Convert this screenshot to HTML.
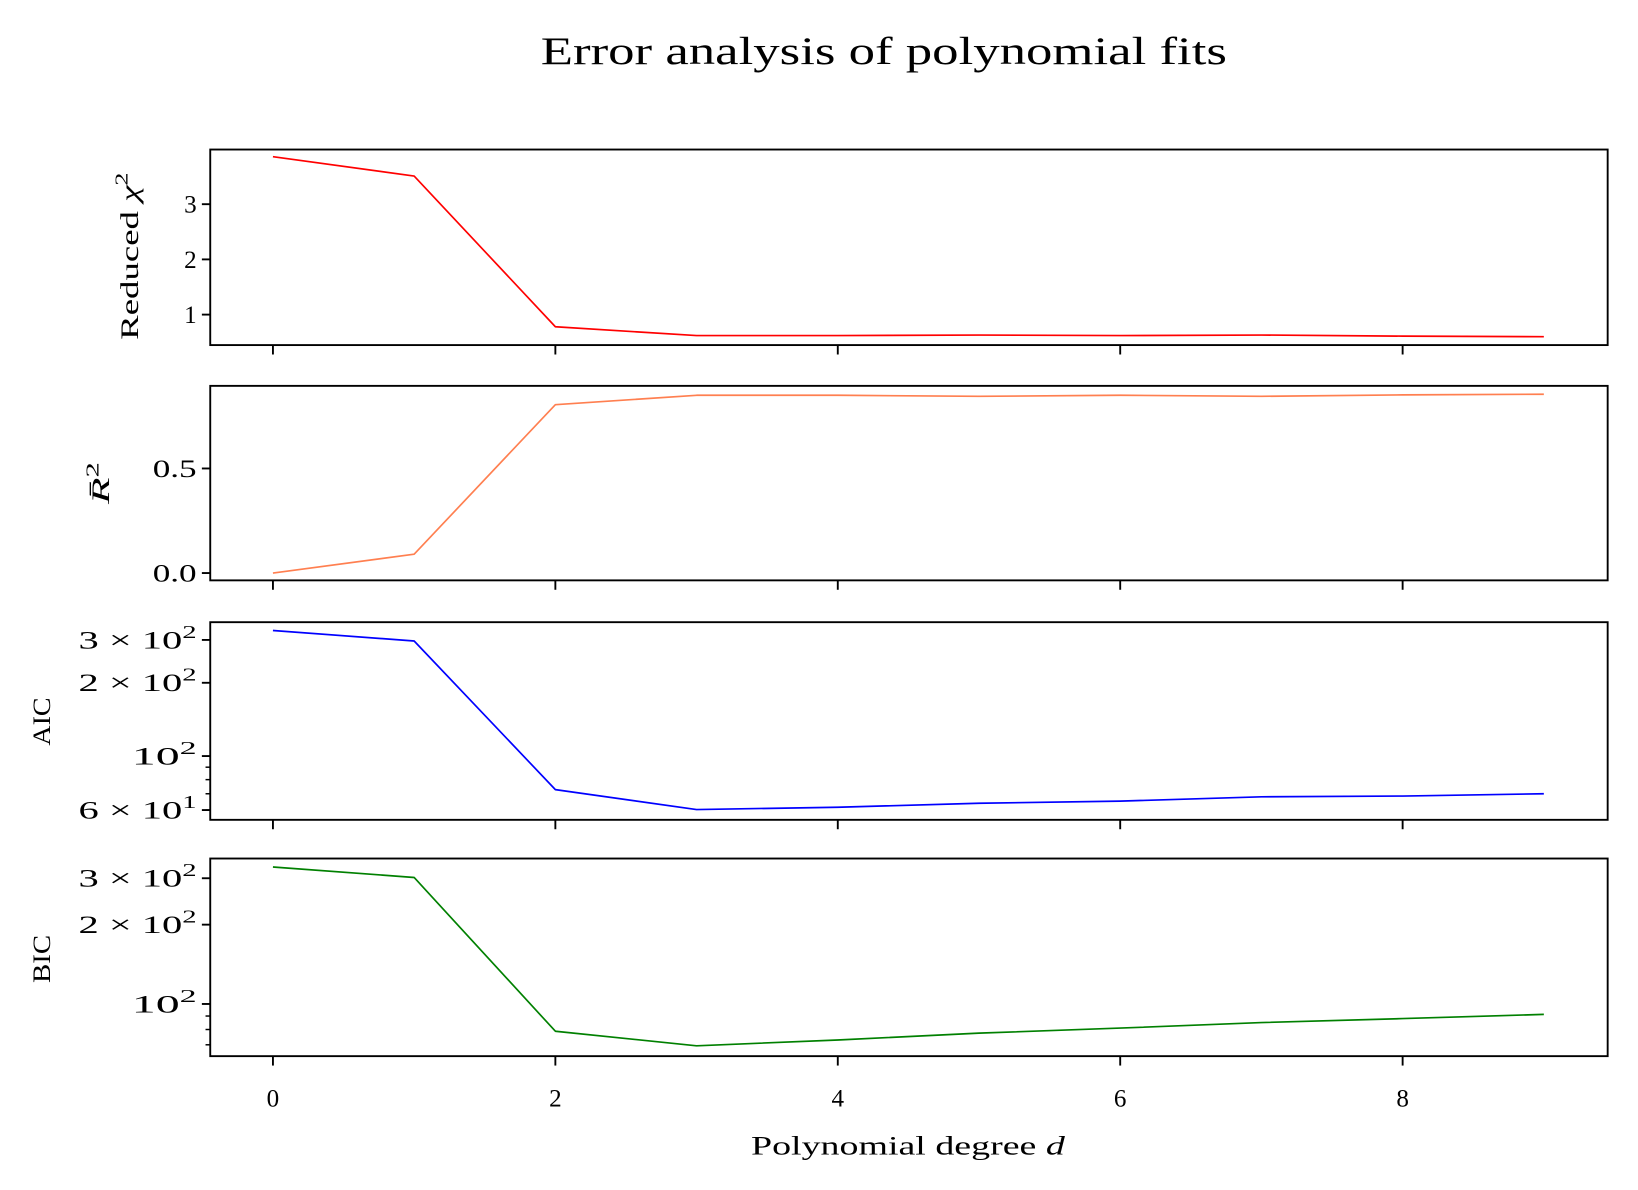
<!DOCTYPE html>
<html><head><meta charset="utf-8"><style>
html,body{margin:0;padding:0;background:#fff;}
svg{display:block;}
text{font-family:"Liberation Serif","DejaVu Serif",serif;fill:#000;}
</style></head><body>
<svg id="fig" width="1638" height="1190" viewBox="0 0 1566 1138" preserveAspectRatio="none" xmlns="http://www.w3.org/2000/svg">
<rect width="1566" height="1138" fill="#fff"/>
<text x="517" y="61" font-size="37" textLength="656" lengthAdjust="spacingAndGlyphs">Error analysis of polynomial fits</text>
<text x="718" y="1104" font-size="25" textLength="300" lengthAdjust="spacingAndGlyphs">Polynomial degree <tspan font-style="italic">d</tspan></text>
</svg>
<script>
const degrees = [0,1,2,3,4,5,6,7,8,9];
const chi2Values = [3.86,3.51,0.78,0.62,0.62,0.63,0.62,0.63,0.61,0.60];
const r2Values = [0.0,0.09,0.805,0.85,0.85,0.845,0.85,0.845,0.852,0.855];
const aicValues = [328,297,72.8,60.3,61.6,64,65.3,68,68.5,70];
const bicValues = [331,302,78.8,69.4,73,77.5,81,85,88,91.3];
const xTicks = [0,2,4,6,8];
const chi2Ticks = [1,2,3];
const r2Ticks = [0.0,0.5];
const r2TickLabels = ["0.0","0.5"];
const aicTicks = [60,100,200,300];
const aicTickLabels = [["6","1"],["","2"],["2","2"],["3","2"]];
const bicTicks = [100,200,300];
const bicTickLabels = [["","2"],["2","2"],["3","2"]];

const NS = "http://www.w3.org/2000/svg";
const svg = document.getElementById('fig');
const X0 = 201, X1 = 1537, XMIN = -0.444, XMAX = 9.452;
function xs(v){ return X0 + (v - XMIN) / (XMAX - XMIN) * (X1 - X0); }
function mk(tag, attrs, parent){
  const e = document.createElementNS(NS, tag);
  for (const k in attrs) e.setAttribute(k, attrs[k]);
  (parent || svg).appendChild(e);
  return e;
}
function panel(cfg){
  const g = mk('g', {});
  
  
  const top = cfg.top, bot = cfg.bot;
  const tr = v => cfg.log ? Math.log10(v) : v;
  const ys = v => bot - (tr(v) - cfg.ymin) / (cfg.ymax - cfg.ymin) * (bot - top);
  const pts = degrees.map((d,i) => xs(d).toFixed(2) + ',' + ys(cfg.values[i]).toFixed(2)).join(' ');
  const line = mk('polyline', {points: pts, fill: 'none', stroke: cfg.color, 'stroke-width': 1.6, 'stroke-linejoin': 'round'}, g);
  
  
  if (cfg.log) {
    [60,70,80,90].forEach(m => {
      const y = ys(m);
      if (y > top && y < bot) mk('line', {x1: X0-4.5, x2: X0, y1: y, y2: y, stroke: '#000', 'stroke-width': 1.4}, g);
    });
  }
  cfg.ticks.forEach((t,i) => {
    const y = ys(t);
    mk('line', {x1: X0-8, x2: X0, y1: y, y2: y, stroke: '#000', 'stroke-width': 1.8}, g);
    const L = cfg.labels[i];
    const lab = mk('text', {x: X0-13, y: y+8, 'font-size': 24, 'text-anchor': 'end'}, g);
    
    
    if (Array.isArray(L)) {
      const w = L[0] ? 113 : 62;
      lab.setAttribute('textLength', w);
      lab.setAttribute('lengthAdjust', 'spacingAndGlyphs');
      lab.appendChild(document.createTextNode(L[0] ? L[0] + ' \u00d7 10' : '10'));
      const s = mk('tspan', {dy: -10, 'font-size': 17}, lab);
      s.textContent = L[1];
    } else {
      lab.textContent = L;
      if (L.length > 1) { lab.setAttribute('textLength', 42); lab.setAttribute('lengthAdjust', 'spacingAndGlyphs'); }
    }
  });
  xTicks.forEach(t => {
    mk('line', {x1: xs(t), x2: xs(t), y1: bot, y2: bot+9, stroke: '#000', 'stroke-width': 1.8}, g);
  });
  const fr = mk('rect', {x: X0, y: top, width: X1-X0, height: bot-top, fill: 'none', stroke: '#000', 'stroke-width': 1.8}, g);
  
  
  const cy = cfg.labelY;
  const yl = mk('text', {x: cfg.labelX, y: cy, 'font-size': 24, 'text-anchor': 'middle', transform: 'rotate(-90 ' + cfg.labelX + ' ' + cy + ')'}, g);
  
  
  cfg.ylabel(yl);
  if (cfg.labelLen) { yl.setAttribute('textLength', cfg.labelLen); yl.setAttribute('lengthAdjust', 'spacingAndGlyphs'); }
  return ys;
}
panel({name:'reduced-chi2', top:143, bot:330, ymin:0.448, ymax:3.99, values:chi2Values, color:'#ff0000',
  ticks:chi2Ticks, labels:chi2Ticks.map(String), labelX:132, labelY:245, labelLen:160,
  ylabel: el => { el.appendChild(document.createTextNode('Reduced ')); const c = mk('tspan',{'font-style':'italic'},el); c.textContent='\u03c7'; const s = mk('tspan',{dy:-10,'font-size':17},el); s.textContent='2'; }});
panel({name:'adjusted-r2', top:369, bot:555, ymin:-0.035, ymax:0.895, values:r2Values, color:'#ff7f50',
  ticks:r2Ticks, labels:r2TickLabels, labelX:104, labelY:462, labelLen:40,
  ylabel: el => { const c = mk('tspan',{'font-style':'italic'},el); c.textContent='R\u0304'; const s = mk('tspan',{dy:-10,'font-size':17},el); s.textContent='2'; }});
panel({name:'aic', top:595, bot:784, log:true, ymin:2-0.262, ymax:2.55, values:aicValues, color:'#0000ff',
  ticks:aicTicks, labels:aicTickLabels, labelX:48, labelY:690, labelLen:46,
  ylabel: el => { el.textContent = 'AIC'; }});
panel({name:'bic', top:821, bot:1010, log:true, ymin:2-0.198, ymax:2.552, values:bicValues, color:'#008000',
  ticks:bicTicks, labels:bicTickLabels, labelX:48, labelY:917, labelLen:46,
  ylabel: el => { el.textContent = 'BIC'; }});
xTicks.forEach(t => {
  const l = mk('text', {x: xs(t), y: 1058, 'font-size': 24, 'text-anchor': 'middle'});
  
  
  l.textContent = String(t);
});
</script>
</body></html>
